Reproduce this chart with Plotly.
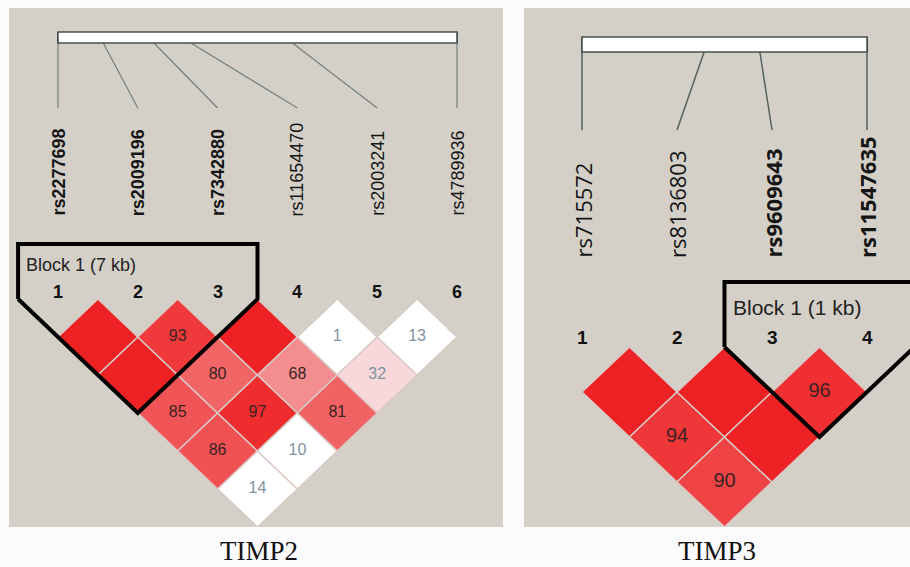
import plotly.graph_objects as go

W, H = 910, 567

# ---------------- data ----------------
timp2_snps = ["rs2277698", "rs2009196", "rs7342880", "rs11654470", "rs2003241", "rs4789936"]
timp2_pos_kb = [0.0, 3.3, 7.0, 9.7, 17.1, 29.1]
# D' x100, row i lists pairs (i, i+1), (i, i+2), ...
timp2_dprime = [
    [100, 100, 85, 86, 14],
    [93, 80, 97, 10],
    [100, 68, 81],
    [1, 32],
    [13],
]
# LOD >= 2 flags for the same pairs
timp2_sig = [
    [1, 1, 1, 1, 0],
    [1, 1, 1, 0],
    [1, 1, 1],
    [0, 1],
    [0],
]
timp2_block = (1, 3)
timp2_block_label = "Block 1 (7 kb)"

timp3_snps = ["rs715572", "rs8136803", "rs9609643", "rs11547635"]
timp3_pos_kb = [0.0, 1.14, 1.66, 2.66]
timp3_dprime = [
    [100, 94, 90],
    [100, 100],
    [96],
]
timp3_sig = [
    [1, 1, 1],
    [1, 1],
    [1],
]
timp3_block = (3, 4)
timp3_block_label = "Block 1 (1 kb)"

titles = ["TIMP2", "TIMP3"]

# ---------------- styling / layout ----------------
BG = "#D4D0C8"
RED_TXT = "#3A2222"
LIGHT_TXT = "#7F93A2"

panels = [
    dict(snps=timp2_snps, pos=timp2_pos_kb, dp=timp2_dprime, sig=timp2_sig,
         block=timp2_block, block_label=timp2_block_label,
         box=(9, 8, 503, 527), snp0=58, dx=79.8, d0=299, dy=76,
         bar_py=(32, 43), line_py=108, label_py=218, num_py=292, block_top_py=244,
         block_txt_py=265,
         label_font="Liberation Sans", label_size=18, num_size=18, val_size=16,
         block_size=18, line_color="#72807F", line_w=1.2),
    dict(snps=timp3_snps, pos=timp3_pos_kb, dp=timp3_dprime, sig=timp3_sig,
         block=timp3_block, block_label=timp3_block_label,
         box=(524, 8, 910, 527), snp0=582, dx=95, d0=347, dy=90,
         bar_py=(37, 52), line_py=130, label_py=260, num_py=337, block_top_py=282,
         block_txt_py=307,
         label_font="Open Sans", label_size=22, num_size=19, val_size=20,
         block_size=21, line_color="#55615F", line_w=1.5),
]


def cell_color(d, sig):
    if not sig:
        return "#FFFFFF"
    blgr = 446 * (1 - d / 100.0)
    g = min(216.0, 34 + 0.75 * blgr)
    r = 238 + 10 * (g - 34) / (216 - 34)
    return f"rgb({r:.0f},{g:.0f},{min(255, g + 2):.0f})"


fig = go.Figure()
annotations = []
shapes = []
layout_axes = {}

for k, p in enumerate(panels):
    xa = "x" if k == 0 else "x2"
    ya = "y" if k == 0 else "y2"
    x0, y0, x1, y1 = p["box"]
    tx = lambda px, p=p: 1 + (px - p["snp0"]) / p["dx"]
    ty = lambda py, p=p: (py - p["d0"]) / p["dy"]
    xname = "xaxis" if k == 0 else "xaxis2"
    yname = "yaxis" if k == 0 else "yaxis2"
    layout_axes[xname] = dict(domain=[x0 / W, x1 / W], range=[tx(x0), tx(x1)],
                              visible=False, fixedrange=True)
    layout_axes[yname] = dict(domain=[1 - y1 / H, 1 - y0 / H], range=[ty(y1), ty(y0)],
                              visible=False, fixedrange=True, anchor=xa)
    layout_axes[xname]["anchor"] = ya

    n = len(p["snps"])
    idx = list(range(1, n + 1))
    span = p["pos"][-1] - p["pos"][0]
    bar_x = [1 + (n - 1) * (v - p["pos"][0]) / span for v in p["pos"]]
    bt, bb = ty(p["bar_py"][0]), ty(p["bar_py"][1])

    # physical map bar
    shapes.append(dict(type="rect", xref=xa, yref=ya, x0=bar_x[0], x1=bar_x[-1],
                       y0=bt, y1=bb, fillcolor="#FFFFFF",
                       line=dict(color="#46524F", width=1.5), layer="above"))
    tick_x, tick_y = [], []
    for bx in bar_x:
        tick_x += [bx, bx, None]
        tick_y += [bt, bb, None]
    fig.add_trace(go.Scatter(x=tick_x, y=tick_y, xaxis=xa, yaxis=ya, mode="lines",
                             line=dict(color="#3B4644", width=2), hoverinfo="skip",
                             showlegend=False))
    # connectors
    cx, cy = [], []
    le = ty(p["line_py"])
    for bx, sx in zip(bar_x, idx):
        cx += [bx, sx, None]
        cy += [bb, le, None]
    fig.add_trace(go.Scatter(x=cx, y=cy, xaxis=xa, yaxis=ya, mode="lines",
                             line=dict(color=p["line_color"], width=p["line_w"]),
                             hoverinfo="skip", showlegend=False))

    b0, b1 = p["block"]
    # SNP names
    for i, name in enumerate(p["snps"]):
        bold = b0 <= i + 1 <= b1
        annotations.append(dict(
            x=idx[i], y=ty(p["label_py"]), xref=xa, yref=ya,
            text=f"<b>{name}</b>" if bold else name, textangle=-90,
            showarrow=False, xanchor="center", yanchor="bottom",
            font=dict(family=p["label_font"], size=p["label_size"], color="#151515")))
        annotations.append(dict(
            x=idx[i], y=ty(p["num_py"]), xref=xa, yref=ya, text=f"<b>{i + 1}</b>",
            showarrow=False, xanchor="center", yanchor="middle",
            font=dict(family="Liberation Sans", size=p["num_size"], color="#111111")))

    # LD diamonds
    tx_list, ty_list, tt_list, tc_list = [], [], [], []
    for i in range(n - 1):
        for m, d in enumerate(p["dp"][i]):
            j = i + 2 + m
            a = i + 1
            ccx = (a + j) / 2.0
            ccy = (j - a) / 2.0
            s = p["sig"][i][m]
            fig.add_trace(go.Scatter(
                x=[ccx - 0.5, ccx, ccx + 0.5, ccx, ccx - 0.5],
                y=[ccy, ccy - 0.5, ccy, ccy + 0.5, ccy],
                xaxis=xa, yaxis=ya, mode="lines", fill="toself",
                fillcolor=cell_color(d, s), line=dict(color="#D9CAC5", width=1.5),
                hoverinfo="skip", showlegend=False))
            if d < 100:
                tx_list.append(ccx)
                ty_list.append(ccy)
                tt_list.append(str(d))
                tc_list.append(RED_TXT if (s and d >= 50) else LIGHT_TXT)
    fig.add_trace(go.Scatter(x=tx_list, y=ty_list, text=tt_list, mode="text",
                             xaxis=xa, yaxis=ya, textposition="middle center",
                             textfont=dict(family="Liberation Sans", size=p["val_size"],
                                           color=tc_list),
                             hoverinfo="skip", showlegend=False))

    # block outline
    top = ty(p["block_top_py"])
    mid = (b0 + b1) / 2.0
    depth = (b1 - b0) / 2.0 + 0.5
    fig.add_trace(go.Scatter(
        x=[b0 - 0.5, b0 - 0.5, b1 + 0.5, b1 + 0.5, mid, b0 - 0.5],
        y=[0, top, top, 0, depth, 0],
        xaxis=xa, yaxis=ya, mode="lines", line=dict(color="#000000", width=4),
        hoverinfo="skip", showlegend=False))
    annotations.append(dict(
        x=b0 - 0.5 + 0.07, y=ty(p["block_txt_py"]), xref=xa, yref=ya,
        text=p["block_label"], showarrow=False, xanchor="left", yanchor="middle",
        font=dict(family="Liberation Sans", size=p["block_size"], color="#222222")))

    # panel title
    annotations.append(dict(
        x=(x0 + x1) / 2.0 / W + (0.003 if k == 0 else 0.0), y=1 - 551 / H,
        xref="paper", yref="paper", text=titles[k], showarrow=False,
        xanchor="center", yanchor="middle",
        font=dict(family="Liberation Serif", size=27, color="#111111")))

fig.update_layout(
    width=W, height=H, margin=dict(l=0, r=0, t=0, b=0),
    paper_bgcolor="#FBFBFD", plot_bgcolor=BG,
    annotations=annotations, shapes=shapes, showlegend=False,
    **layout_axes,
)

fig.write_html(
    "out.html",
    config={"displayModeBar": False},
    post_script="document.body.style.margin='0';document.body.style.padding='0';"
                "document.body.style.background='#FBFBFD';",
)
